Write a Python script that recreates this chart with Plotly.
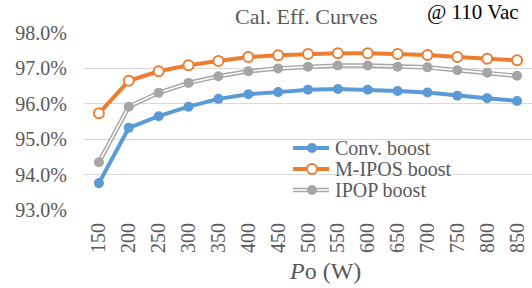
import plotly.graph_objects as go

power = ["150", "200", "250", "300", "350", "400", "450", "500", "550", "600", "650", "700", "750", "800", "850"]
conv = [93.76, 95.32, 95.65, 95.92, 96.14, 96.27, 96.33, 96.40, 96.42, 96.40, 96.36, 96.32, 96.23, 96.16, 96.08]
mipos = [95.73, 96.65, 96.92, 97.09, 97.21, 97.32, 97.37, 97.41, 97.43, 97.43, 97.41, 97.38, 97.32, 97.27, 97.23]
ipop = [94.35, 95.92, 96.31, 96.59, 96.78, 96.92, 97.00, 97.05, 97.08, 97.08, 97.05, 97.03, 96.95, 96.88, 96.79]
y_ticks = [93, 94, 95, 96, 97, 98]
y_tick_text = ["93.0%", "94.0%", "95.0%", "96.0%", "97.0%", "98.0%"]
series_names = ["Conv. boost", "M-IPOS boost", "IPOP boost"]

BLUE = "#5B9BD5"
ORANGE = "#ED7D31"
GRAY = "#A5A5A5"
TXT = "#595959"
FONT = "Liberation Serif"

W, H = 532, 288
L, R, T, B = 84, 0, 33, 78
PW, PH = W - L - R, H - T - B


def px(xp):
    return (xp - L) / PW


def py(yp):
    return (H - B - yp) / PH


fig = go.Figure()
fig.add_trace(go.Scatter(x=power, y=ipop, mode="lines", line=dict(color=GRAY, width=4.5),
                         showlegend=False, hoverinfo="skip"))
fig.add_trace(go.Scatter(x=power, y=ipop, mode="lines+markers", line=dict(color="white", width=1.6),
                         marker=dict(color=GRAY, size=10), name=series_names[2], showlegend=False))
fig.add_trace(go.Scatter(x=power, y=conv, mode="lines+markers", line=dict(color=BLUE, width=4),
                         marker=dict(color=BLUE, size=10), name=series_names[0], showlegend=False))
fig.add_trace(go.Scatter(x=power, y=mipos, mode="lines+markers", line=dict(color=ORANGE, width=4),
                         marker=dict(color="white", size=10, line=dict(color=ORANGE, width=2)),
                         name=series_names[1], showlegend=False))

shapes = [dict(type="rect", xref="paper", yref="paper", x0=px(276), x1=px(475), y0=py(202), y1=py(132),
               fillcolor="white", line=dict(width=0), layer="below")]
annotations = []
rows = [148, 169, 190]
for i, (nm, yy) in enumerate(zip(series_names, rows)):
    if i == 2:
        shapes.append(dict(type="line", xref="paper", yref="paper", x0=px(293), x1=px(329), y0=py(yy), y1=py(yy),
                           line=dict(color=GRAY, width=4.5)))
        shapes.append(dict(type="line", xref="paper", yref="paper", x0=px(293), x1=px(329), y0=py(yy), y1=py(yy),
                           line=dict(color="white", width=1.6)))
        shapes.append(dict(type="circle", xref="paper", yref="paper", x0=px(307), x1=px(317), y0=py(yy + 5),
                           y1=py(yy - 5), fillcolor=GRAY, line=dict(width=0)))
    else:
        c = BLUE if i == 0 else ORANGE
        shapes.append(dict(type="line", xref="paper", yref="paper", x0=px(293), x1=px(329), y0=py(yy), y1=py(yy),
                           line=dict(color=c, width=4)))
        shapes.append(dict(type="circle", xref="paper", yref="paper", x0=px(307), x1=px(317), y0=py(yy + 5),
                           y1=py(yy - 5), fillcolor=c if i == 0 else "white",
                           line=dict(width=0 if i == 0 else 2, color=c)))
    annotations.append(dict(text=nm, xref="paper", yref="paper", x=px(333), y=py(yy), xanchor="left",
                            yanchor="middle", showarrow=False, font=dict(family=FONT, size=20, color=TXT)))

annotations.append(dict(text="Cal. Eff. Curves", xref="paper", yref="paper", x=px(306), y=py(16),
                        xanchor="center", yanchor="middle", showarrow=False,
                        font=dict(family=FONT, size=22, color=TXT)))
annotations.append(dict(text="@ 110 Vac", xref="paper", yref="paper", x=px(425), y=py(12),
                        xanchor="left", yanchor="middle", showarrow=False,
                        font=dict(family=FONT, size=21, color="black")))
annotations.append(dict(text="<i>P</i>o (W)", xref="paper", yref="paper", x=px(325), y=py(271),
                        xanchor="center", yanchor="middle", showarrow=False,
                        font=dict(family=FONT, size=24, color=TXT)))

fig.update_layout(
    width=W, height=H, margin=dict(l=L, r=R, t=T, b=B, autoexpand=False),
    paper_bgcolor="white", plot_bgcolor="white",
    font=dict(family=FONT, color=TXT),
    shapes=shapes, annotations=annotations,
    xaxis=dict(type="category", range=[-0.5, 14.5], showgrid=False, showline=False, zeroline=False,
               tickangle=-90, ticks="", ticklabelstandoff=8, automargin=False,
               tickfont=dict(family=FONT, size=20, color=TXT)),
    yaxis=dict(range=[93, 98], tickvals=y_ticks, ticktext=y_tick_text, showgrid=True,
               gridcolor="#D9D9D9", gridwidth=1, zeroline=False, showline=False, ticks="",
               ticklabelstandoff=16, automargin=False, layer="below traces",
               tickfont=dict(family=FONT, size=20, color=TXT)),
)

post = """
document.body.style.margin='0';document.body.style.padding='0';
var st=document.createElement('style');
st.textContent='.xtick text, .ytick text {font-family: "Liberation Serif", serif !important;}';
document.head.appendChild(st);
document.querySelectorAll('.xtick text, .ytick text').forEach(function(e){
  e.style.setProperty('font-family', '"Liberation Serif", serif', 'important');
});
"""
fig.write_html("out.html", config={"displayModeBar": False}, post_script=post)
